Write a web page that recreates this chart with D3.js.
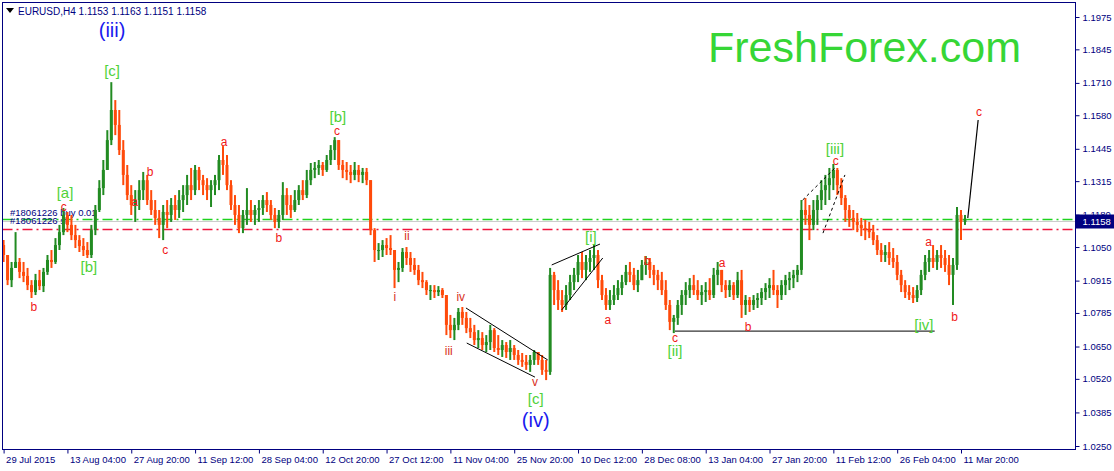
<!DOCTYPE html>
<html>
<head>
<meta charset="utf-8">
<script src="https://cdn.jsdelivr.net/npm/d3@7"></script>
<style>
  html, body { margin: 0; padding: 0; background: #ffffff; }
  svg { display: block; }
</style>
</head>
<body>
<svg id="Chart"></svg>
<script>
// EURUSD H4, one entry per group of bars
// open of each bar = close of the one before it
let firstOpen = 1.1058
let highs = [
  1.1078,1.1006,1.0990,1.1110,1.1006,1.0990,1.0966,1.0917,1.0942,1.0958,1.0966,1.1018,1.1038,1.1086,1.1139,1.1207,
  1.1191,1.1179,1.1139,1.1098,1.1086,1.1070,1.1139,1.1219,1.1319,1.1400,1.1520,1.1713,1.1641,1.1601,1.1480,1.1380,
  1.1299,1.1279,1.1319,1.1352,1.1340,1.1279,1.1239,1.1199,1.1219,1.1239,1.1247,1.1259,1.1279,1.1299,1.1340,1.1368,
  1.1380,1.1372,1.1340,1.1327,1.1319,1.1340,1.1420,1.1456,1.1420,1.1319,1.1259,1.1219,1.1199,1.1287,1.1239,1.1219,
  1.1239,1.1259,1.1271,1.1239,1.1207,1.1199,1.1311,1.1287,1.1259,1.1279,1.1299,1.1319,1.1360,1.1388,1.1392,1.1400,
  1.1392,1.1420,1.1460,1.1492,1.1480,1.1400,1.1392,1.1380,1.1392,1.1380,1.1368,1.1368,1.1319,1.1126,1.1066,1.1078,
  1.1086,1.1098,1.1038,1.0990,1.1046,1.1050,1.1030,1.1006,1.0978,1.0950,1.0917,1.0897,1.0897,1.0893,1.0885,1.0857,
  1.0777,1.0765,1.0805,1.0809,1.0789,1.0765,1.0737,1.0716,1.0708,1.0696,1.0737,1.0724,1.0696,1.0676,1.0668,1.0676,
  1.0656,1.0636,1.0624,1.0616,1.0616,1.0636,1.0628,1.0616,1.0596,1.0966,1.0950,1.0917,1.0877,1.0897,1.0938,1.0966,
  1.1018,1.1030,1.1018,1.1038,1.1058,1.1038,1.0938,1.0885,1.0877,1.0897,1.0917,1.0938,1.0978,1.0990,1.0966,1.0958,
  1.0998,1.1014,1.1006,1.0978,1.0958,1.0950,1.0917,1.0837,1.0777,1.0837,1.0877,1.0909,1.0925,1.0938,1.0917,1.0897,
  1.0909,1.0925,1.0966,1.0990,1.0958,1.0917,1.0917,1.0909,1.0950,1.0958,1.0857,1.0849,1.0857,1.0865,1.0885,1.0905,
  1.0925,1.0958,1.0897,1.0917,1.0938,1.0950,1.0958,1.0978,1.1239,1.1247,1.1219,1.1239,1.1259,1.1319,1.1340,1.1368,
  1.1384,1.1368,1.1327,1.1259,1.1219,1.1199,1.1187,1.1167,1.1159,1.1151,1.1139,1.1098,1.1066,1.1058,1.1070,1.1046,
  1.1018,1.0958,1.0917,1.0897,1.0889,1.0897,1.0958,1.1018,1.1038,1.1058,1.1038,1.1058,1.1038,1.1018,1.1006,1.1211,
  1.1199,1.1179
]
let lows = [
  1.0990,1.0897,1.0889,1.0966,1.0925,1.0909,1.0877,1.0845,1.0857,1.0877,1.0869,1.0938,1.0966,1.0982,1.1038,1.1098,
  1.1110,1.1078,1.1046,1.1030,1.1014,1.1006,1.1006,1.1098,1.1191,1.1259,1.1360,1.1460,1.1500,1.1420,1.1299,1.1239,
  1.1179,1.1151,1.1199,1.1239,1.1219,1.1179,1.1139,1.1086,1.1078,1.1126,1.1151,1.1159,1.1167,1.1191,1.1219,1.1239,
  1.1259,1.1279,1.1259,1.1239,1.1211,1.1259,1.1279,1.1340,1.1279,1.1199,1.1139,1.1106,1.1106,1.1139,1.1151,1.1139,
  1.1151,1.1179,1.1191,1.1159,1.1126,1.1126,1.1159,1.1179,1.1167,1.1191,1.1219,1.1239,1.1247,1.1299,1.1327,1.1340,
  1.1336,1.1352,1.1380,1.1400,1.1360,1.1327,1.1319,1.1307,1.1319,1.1311,1.1307,1.1299,1.1098,1.0990,1.0998,1.1010,
  1.1018,1.1018,1.0885,1.0909,1.0950,1.0978,1.0950,1.0938,1.0897,1.0885,1.0857,1.0837,1.0845,1.0853,1.0845,1.0696,
  1.0684,1.0676,1.0716,1.0737,1.0704,1.0684,1.0656,1.0644,1.0636,1.0628,1.0636,1.0628,1.0616,1.0608,1.0604,1.0596,
  1.0596,1.0576,1.0568,1.0556,1.0548,1.0576,1.0576,1.0536,1.0515,1.0536,1.0817,1.0797,1.0789,1.0797,1.0837,1.0877,
  1.0909,1.0925,1.0917,1.0950,1.0958,1.0885,1.0837,1.0797,1.0797,1.0817,1.0837,1.0857,1.0897,1.0909,1.0877,1.0869,
  1.0917,1.0938,1.0925,1.0897,1.0877,1.0857,1.0797,1.0716,1.0704,1.0737,1.0777,1.0817,1.0845,1.0857,1.0837,1.0817,
  1.0829,1.0837,1.0845,1.0897,1.0869,1.0845,1.0849,1.0837,1.0845,1.0765,1.0777,1.0789,1.0797,1.0805,1.0817,1.0837,
  1.0845,1.0857,1.0805,1.0837,1.0857,1.0877,1.0885,1.0909,1.0938,1.1139,1.1078,1.1118,1.1139,1.1199,1.1219,1.1239,
  1.1279,1.1259,1.1219,1.1151,1.1131,1.1118,1.1110,1.1094,1.1078,1.1086,1.1058,1.1018,1.0990,1.0990,1.0978,1.0966,
  1.0917,1.0869,1.0845,1.0837,1.0825,1.0829,1.0857,1.0917,1.0950,1.0966,1.0958,1.0966,1.0950,1.0897,1.0817,1.0958,
  1.1078,1.1139
]
let closes = [
  1.1018,1.0917,1.0966,1.0990,1.0950,1.0934,1.0897,1.0869,1.0917,1.0893,1.0950,1.0998,1.0990,1.1058,1.1110,1.1179,
  1.1139,1.1098,1.1078,1.1054,1.1038,1.1018,1.1118,1.1199,1.1287,1.1360,1.1480,1.1601,1.1541,1.1440,1.1340,1.1259,
  1.1219,1.1239,1.1279,1.1319,1.1239,1.1199,1.1167,1.1139,1.1191,1.1179,1.1219,1.1199,1.1239,1.1259,1.1299,1.1279,
  1.1360,1.1319,1.1299,1.1279,1.1299,1.1319,1.1400,1.1380,1.1299,1.1219,1.1179,1.1126,1.1179,1.1199,1.1179,1.1199,
  1.1207,1.1239,1.1219,1.1179,1.1151,1.1179,1.1259,1.1219,1.1199,1.1239,1.1279,1.1259,1.1319,1.1360,1.1368,1.1380,
  1.1360,1.1400,1.1440,1.1480,1.1380,1.1360,1.1352,1.1340,1.1360,1.1340,1.1352,1.1319,1.1118,1.1038,1.1038,1.1058,
  1.1046,1.1038,1.0958,1.0966,1.1030,1.1006,1.0978,1.0958,1.0917,1.0909,1.0877,1.0877,1.0869,1.0877,1.0857,1.0737,
  1.0716,1.0737,1.0789,1.0765,1.0724,1.0708,1.0676,1.0684,1.0656,1.0668,1.0716,1.0644,1.0636,1.0656,1.0628,1.0644,
  1.0616,1.0596,1.0588,1.0576,1.0596,1.0628,1.0596,1.0556,1.0548,1.0938,1.0877,1.0837,1.0817,1.0857,1.0909,1.0938,
  1.0990,1.0958,1.0990,1.1006,1.1018,1.0917,1.0857,1.0817,1.0837,1.0857,1.0885,1.0909,1.0950,1.0938,1.0897,1.0917,
  1.0978,1.0990,1.0958,1.0938,1.0917,1.0877,1.0817,1.0749,1.0765,1.0817,1.0857,1.0877,1.0897,1.0877,1.0857,1.0869,
  1.0877,1.0857,1.0938,1.0958,1.0897,1.0877,1.0897,1.0857,1.0917,1.0817,1.0837,1.0817,1.0837,1.0845,1.0869,1.0885,
  1.0897,1.0877,1.0857,1.0897,1.0917,1.0925,1.0938,1.0958,1.1199,1.1179,1.1139,1.1199,1.1239,1.1279,1.1299,1.1327,
  1.1360,1.1299,1.1247,1.1199,1.1167,1.1151,1.1139,1.1126,1.1118,1.1110,1.1078,1.1038,1.1018,1.1030,1.1006,1.0990,
  1.0938,1.0897,1.0869,1.0857,1.0845,1.0877,1.0938,1.0990,1.1006,1.0990,1.1018,1.1006,1.0978,1.0938,1.0978,1.1179,
  1.1151,1.1158
]

let priceTicks = [1.1975, 1.1845, 1.1710, 1.1580, 1.1445, 1.1315, 1.1180, 1.1050, 1.0915, 1.0785, 1.0650, 1.0520, 1.0385, 1.0250]
let dateTickBars = [0, 16, 32, 48, 64, 80, 96, 112, 128, 144, 160, 176, 192, 208, 224, 240]
let dateLabels = ["29 Jul 2015", "13 Aug 04:00", "27 Aug 20:00", "11 Sep 12:00", "28 Sep 04:00", "12 Oct 20:00",
  "27 Oct 12:00", "11 Nov 04:00", "25 Nov 20:00", "10 Dec 12:00", "28 Dec 08:00", "13 Jan 04:00",
  "27 Jan 20:00", "11 Feb 12:00", "26 Feb 04:00", "11 Mar 20:00"]

let bidPrice = 1.1158
let buyPrice = 1.1162
let slPrice = 1.1124
let supportLine = [[168.3, 1.0712], [233.4, 1.0712]]
let channelLines = [
  [[115.9, 1.0805], [136.4, 1.0596]],
  [[116.1, 1.0664], [133.2, 1.0527]],
  [[137.4, 1.0978], [149.5, 1.1062]],
  [[139.9, 1.0797], [150.2, 1.1006]]
]
let dashedLines = [
  [[200.3, 1.1239], [208.4, 1.1368]],
  [[205.4, 1.1106], [210.9, 1.1340]]
]
let forecastLine = [[241.7, 1.1167], [244.3, 1.1561]]

// wave labels: [bar, price, text, degree]
let waveLabels = [
  [27.2, 1.1922, "(iii)", "major"], [27.2, 1.1758, "[c]", "mid"],
  [15.4, 1.1271, "[a]", "mid"], [15.1, 1.1211, "c", "minor"],
  [21.4, 1.0970, "[b]", "mid"], [7.6, 1.0809, "b", "minor"],
  [32.9, 1.1231, "a", "minor"], [36.7, 1.1352, "b", "minor"], [40.5, 1.1038, "c", "minor"],
  [55.3, 1.1472, "a", "minor"], [69.0, 1.1086, "b", "minor"],
  [83.8, 1.1573, "[b]", "mid"], [83.6, 1.1516, "c", "minor"],
  [98.1, 1.0849, "i", "sub"], [101.1, 1.1094, "ii", "sub"], [111.6, 1.0632, "iii", "sub"],
  [114.6, 1.0849, "iv", "sub"], [133.2, 1.0507, "v", "sub"],
  [133.4, 1.0443, "[c]", "mid"], [133.4, 1.0355, "(iv)", "major"],
  [147.2, 1.1094, "[i]", "mid"], [151.5, 1.0757, "a", "minor"], [161.3, 1.0994, "b", "minor"],
  [168.3, 1.0684, "c", "minor"], [168.3, 1.0632, "[ii]", "mid"],
  [180.1, 1.0986, "a", "minor"], [186.6, 1.0728, "b", "minor"],
  [208.4, 1.1448, "[iii]", "mid"], [208.6, 1.1396, "c", "minor"],
  [230.7, 1.0737, "[iv]", "mid"], [231.9, 1.1070, "a", "minor"], [238.4, 1.0769, "b", "minor"],
  [244.5, 1.1593, "c", "minor"]
]

let config = {}

function initConfig() {
  let width = 1114
  let height = 471
  let plot = {left: 2.5, top: 2.5, right: 1075.5, bottom: 449.5}
  let axisColor = "#000080"
  let upColor = "#228b22"
  let downColor = "#ff4a0a"
  let fontFamily = "'Liberation Sans', Arial, sans-serif"
  let container = d3.select("#Chart")
    .attr("width", width)
    .attr("height", height)
  let x = d3.scaleLinear().domain([0, 240]).range([3.6, 961])
  let y = d3.scaleLinear().domain([1.0250, 1.1975]).range([446, 17])
  config = {width, height, plot, axisColor, upColor, downColor, fontFamily, container, x, y}
}

// snap a horizontal line to the pixel grid
function crisp(v) {
  return Math.round(v) + 0.5
}

function drawFrame() {
  let {container, plot, axisColor} = config
  container.append("rect")
    .attr("x", plot.left).attr("y", plot.top)
    .attr("width", plot.right - plot.left)
    .attr("height", plot.bottom - plot.top)
    .attr("fill", "none")
    .attr("stroke", axisColor)
    .attr("stroke-width", 1)

  container.append("clipPath").attr("id", "plotClip")
    .append("rect")
    .attr("x", plot.left + 0.5).attr("y", plot.top + 0.5)
    .attr("width", plot.right - plot.left - 1)
    .attr("height", plot.bottom - plot.top - 1)
}

function drawAxes() {
  let {container, plot, axisColor, fontFamily, x, y} = config

  let yAxis = container.append("g")
    .attr("transform", `translate(${plot.right},0)`)
    .call(d3.axisRight(y).tickValues(priceTicks).tickFormat(d3.format(".4f")).tickSize(4).tickSizeOuter(0))
  yAxis.select(".domain").remove()
  yAxis.selectAll("line").attr("stroke", axisColor)
  yAxis.selectAll("text")
    .attr("x", 7)
    .attr("fill", axisColor)
    .attr("font-family", fontFamily)
    .attr("font-size", "9.5px")

  let xAxis = container.append("g")
    .attr("transform", `translate(0,${plot.bottom})`)
    .call(d3.axisBottom(x).tickValues(dateTickBars).tickFormat((d, i) => dateLabels[i]).tickSize(4).tickSizeOuter(0))
  xAxis.select(".domain").remove()
  xAxis.selectAll("line").attr("stroke", axisColor)
  xAxis.selectAll("text")
    .attr("text-anchor", "start")
    .attr("x", 2)
    .attr("y", 7)
    .attr("fill", axisColor)
    .attr("font-family", fontFamily)
    .attr("font-size", "9.5px")
}

function drawOrderLines() {
  let {container, plot, axisColor, fontFamily, y} = config
  let g = container.append("g").attr("clip-path", "url(#plotClip)")

  g.append("line")
    .attr("x1", plot.left).attr("x2", plot.right)
    .attr("y1", crisp(y(bidPrice)) + 1).attr("y2", crisp(y(bidPrice)) + 1)
    .attr("stroke", "#cccccc").attr("stroke-width", 1)

  g.append("line")
    .attr("x1", plot.left).attr("x2", plot.right)
    .attr("y1", crisp(y(buyPrice))).attr("y2", crisp(y(buyPrice)))
    .attr("stroke", "#1ed21e").attr("stroke-width", 1.5)
    .attr("stroke-dasharray", "10,4,2,4")

  g.append("line")
    .attr("x1", plot.left).attr("x2", plot.right)
    .attr("y1", crisp(y(slPrice))).attr("y2", crisp(y(slPrice)))
    .attr("stroke", "#f0143c").attr("stroke-width", 1.5)
    .attr("stroke-dasharray", "10,4,2,4")

  g.append("text")
    .attr("x", 10).attr("y", y(buyPrice) - 3)
    .attr("fill", axisColor)
    .attr("font-family", fontFamily).attr("font-size", "9.5px")
    .text("#18061226 buy 0.01")
  g.append("text")
    .attr("x", 10).attr("y", y(buyPrice) + 5)
    .attr("fill", axisColor)
    .attr("font-family", fontFamily).attr("font-size", "9.5px")
    .text("#18061226 sl")
}

function drawCandles() {
  let {container, upColor, downColor, x, y} = config
  let bars = closes.map((c, i) => ({
    i, o: i === 0 ? firstOpen : closes[i - 1], h: highs[i], l: lows[i], c
  }))
  let g = container.append("g").attr("clip-path", "url(#plotClip)")
  g.selectAll("line.wick").data(bars)
    .enter().append("line")
    .attr("class", "wick")
    .attr("x1", d => x(d.i)).attr("x2", d => x(d.i))
    .attr("y1", d => y(Math.max(d.h, d.o, d.c)))
    .attr("y2", d => y(Math.min(d.l, d.o, d.c)))
    .attr("stroke", d => d.c >= d.o ? upColor : downColor)
    .attr("stroke-width", 2)
  g.selectAll("rect.body").data(bars)
    .enter().append("rect")
    .attr("class", "body")
    .attr("x", d => x(d.i) - 1.5)
    .attr("width", 3)
    .attr("y", d => y(Math.max(d.o, d.c)))
    .attr("height", d => Math.max(1, Math.abs(y(d.o) - y(d.c))))
    .attr("fill", d => d.c >= d.o ? upColor : downColor)
}

function drawStudies() {
  let {container, x, y} = config
  let line = d3.line().x(d => x(d[0])).y(d => y(d[1]))
  let g = container.append("g").attr("clip-path", "url(#plotClip)")

  g.append("path").attr("d", line(supportLine))
    .attr("stroke", "#000000").attr("stroke-width", 1).attr("fill", "none")

  channelLines.forEach(pts => {
    g.append("path").attr("d", line(pts))
      .attr("stroke", "#000000").attr("stroke-width", 1).attr("fill", "none")
  })
  dashedLines.forEach(pts => {
    g.append("path").attr("d", line(pts))
      .attr("stroke", "#000000").attr("stroke-width", 1).attr("fill", "none")
      .attr("stroke-dasharray", "3,3")
  })
  g.append("path").attr("d", line(forecastLine))
    .attr("stroke", "#000000").attr("stroke-width", 1.2).attr("fill", "none")
}

function drawLabels() {
  let {container, fontFamily, x, y} = config
  let styles = {
    major: {fill: "#1a1aee", size: "20px"},
    mid: {fill: "#4fd23a", size: "15px"},
    minor: {fill: "#f01818", size: "12px"},
    sub: {fill: "#d8301c", size: "12px"}
  }
  container.append("g").selectAll("text").data(waveLabels)
    .enter().append("text")
    .attr("x", d => x(d[0]))
    .attr("y", d => y(d[1]))
    .attr("text-anchor", "middle")
    .attr("dominant-baseline", "central")
    .attr("font-family", fontFamily)
    .attr("font-size", d => styles[d[3]].size)
    .attr("fill", d => styles[d[3]].fill)
    .text(d => d[2])
}

function drawText() {
  let {container, plot, axisColor, fontFamily, y} = config

  container.append("path")
    .attr("d", "M6,8 L14,8 L10,13 Z")
    .attr("fill", "#000000")
  container.append("text")
    .attr("x", 18).attr("y", 15)
    .attr("fill", axisColor)
    .attr("font-family", fontFamily).attr("font-size", "10px")
    .text("EURUSD,H4  1.1153 1.1163 1.1151 1.1158")

  container.append("text")
    .attr("x", 708).attr("y", 62)
    .attr("fill", "#36d636")
    .attr("font-family", fontFamily).attr("font-size", "43px")
    .text("FreshForex.com")

  // current bid box on the price scale
  let by = crisp(y(bidPrice)) + 1
  container.append("rect")
    .attr("x", plot.right + 0.5).attr("y", by - 7)
    .attr("width", 39).attr("height", 14)
    .attr("fill", axisColor)
  container.append("text")
    .attr("x", plot.right + 7).attr("y", by + 3.5)
    .attr("fill", "#ffffff")
    .attr("font-family", fontFamily).attr("font-size", "9.5px")
    .text(d3.format(".4f")(bidPrice))
}

function drawChart() {
  initConfig()
  drawFrame()
  drawOrderLines()
  drawCandles()
  drawStudies()
  drawAxes()
  drawLabels()
  drawText()
}

window.addEventListener("load", drawChart)
</script>
</body>
</html>
